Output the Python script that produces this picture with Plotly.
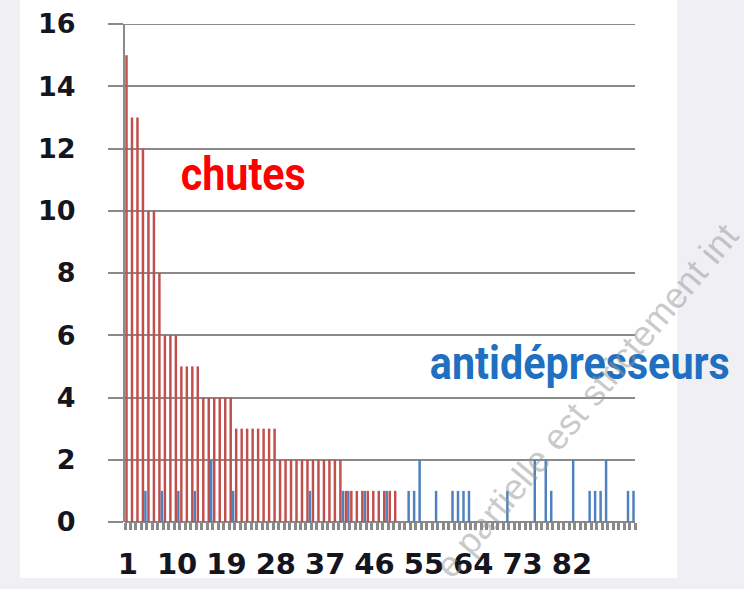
import plotly.graph_objects as go

# ---- data ----
categories = list(range(1, 94))
chutes = [
    15, 13, 13, 12, 10, 10, 8, 6, 6, 6,
    5, 5, 5, 5, 4, 4, 4, 4, 4, 4,
    3, 3, 3, 3, 3, 3, 3, 3, 2, 2,
    2, 2, 2, 2, 2, 2, 2, 2, 2, 2,
    1, 1, 1, 1, 1, 1, 1, 1, 1, 1,
    0, 0, 0, 0, 0, 0, 0, 0, 0, 0,
    0, 0, 0, 0, 0, 0, 0, 0, 0, 0,
    0, 0, 0, 0, 0, 0, 0, 0, 0, 0,
    0, 0, 0, 0, 0, 0, 0, 0, 0, 0,
    0, 0, 0,
]
antidepresseurs = [
    0, 0, 0, 1, 0, 0, 1, 0, 0, 1,
    0, 0, 1, 0, 0, 2, 0, 0, 0, 1,
    0, 0, 0, 0, 0, 0, 0, 0, 0, 0,
    0, 0, 0, 1, 0, 0, 0, 0, 0, 1,
    1, 0, 0, 1, 0, 0, 0, 1, 0, 0,
    0, 1, 1, 2, 0, 0, 1, 0, 0, 1,
    1, 1, 1, 0, 0, 0, 0, 0, 0, 1,
    0, 0, 0, 0, 2, 0, 2, 1, 0, 0,
    0, 2, 0, 0, 1, 1, 1, 2, 0, 0,
    0, 1, 1,
]
x_tick_labels = [1, 10, 19, 28, 37, 46, 55, 64, 73, 82]
y_ticks = [0, 2, 4, 6, 8, 10, 12, 14, 16]

# ---- layout geometry (pixels) ----
W, H = 744, 589
L, R, T, B = 125, 744 - 634.6, 24, 589 - 522
pw, ph = W - L - R, H - T - B

def px(x):
    return (x - L) / pw

def py(y):
    return (H - B - y) / ph

GRID = "#8a8a8a"
TXT = "#151520"

fig = go.Figure()
fig.add_trace(go.Bar(x=categories, y=chutes, name="chutes",
                     marker=dict(color="#c0504d", line=dict(width=0))))
fig.add_trace(go.Bar(x=categories, y=antidepresseurs, name="antidépresseurs",
                     marker=dict(color="#4f81bd", line=dict(width=0))))

fig.update_layout(
    width=W, height=H,
    margin=dict(l=L, r=R, t=T, b=B, pad=0, autoexpand=False),
    paper_bgcolor="#efeff4",
    plot_bgcolor="white",
    barmode="group",
    bargap=0.1,
    bargroupgap=0.0,
    showlegend=False,
    font=dict(family="DejaVu Sans", color=TXT),
)

fig.update_xaxes(
    range=[0.5, 93.5], automargin=False,
    tickmode="array", tickvals=x_tick_labels, ticktext=[str(v) for v in x_tick_labels],
    ticks="", showgrid=False, zeroline=False, showline=False,
    tickfont=dict(family="DejaVu Sans", size=29, weight="bold", color=TXT),
    ticklabelstandoff=22,
    minor=dict(tickmode="linear", tick0=0.5, dtick=1, ticks="outside",
               ticklen=7, tickwidth=3, tickcolor=GRID, showgrid=False),
)
fig.update_yaxes(
    range=[0, 16], automargin=False, tickmode="array", tickvals=y_ticks,
    showgrid=True, gridcolor=GRID, gridwidth=2,
    zeroline=True, zerolinecolor=GRID, zerolinewidth=2,
    showline=True, linecolor=GRID, linewidth=2,
    ticks="outside", ticklen=15, tickwidth=2, tickcolor=GRID,
    tickfont=dict(family="DejaVu Sans", size=27, weight="bold", color=TXT),
    ticklabelstandoff=27,
)

# white chart area behind everything
fig.add_shape(type="rect", xref="paper", yref="paper", layer="below",
              x0=px(20), x1=px(677), y0=py(578), y1=py(-5),
              fillcolor="white", line=dict(width=0))
# top gridline at 16 (plotly omits the edge gridline)
fig.add_shape(type="line", xref="paper", yref="y", layer="above",
              x0=px(110), x1=1, y0=16, y1=16,
              line=dict(color=GRID, width=2))

fig.add_annotation(text="chutes", xref="paper", yref="paper",
                   x=px(243), y=py(174), showarrow=False,
                   xanchor="center", yanchor="middle",
                   font=dict(family="Roboto", size=47, weight="bold", color="#ff0000"))
fig.add_annotation(text="antidépresseurs", xref="paper", yref="paper",
                   x=px(580), y=py(362), showarrow=False,
                   xanchor="center", yanchor="middle",
                   font=dict(family="Roboto", size=47, weight="bold", color="#1f70c1"))
fig.add_annotation(text="e partielle est strictement int", xref="paper", yref="paper",
                   x=px(586), y=py(400), showarrow=False, textangle=-50,
                   xanchor="center", yanchor="middle",
                   font=dict(family="Liberation Sans", size=36, color="rgba(150,150,150,0.5)"))

post = """
document.body.style.margin = '0';
document.body.style.background = '#efeff4';
var gd = document.getElementById('{plot_id}');
var lens = {'0': 125, '1': 300};
function squeeze() {
  gd.querySelectorAll('g.annotation').forEach(function (g) {
    var idx = g.getAttribute('data-index');
    if (lens[idx] === undefined) return;
    var t = g.querySelector('text.annotation-text');
    if (!t) return;
    t.setAttribute('textLength', lens[idx]);
    t.setAttribute('lengthAdjust', 'spacingAndGlyphs');
    var r = g.querySelector('rect.bg');
    if (r) {
      var w = parseFloat(r.getAttribute('width'));
      var x = parseFloat(r.getAttribute('x')) || 0;
      var nw = lens[idx] + 6;
      r.setAttribute('x', x + (w - nw) / 2);
      r.setAttribute('width', nw);
    }
  });
}
squeeze();
setTimeout(squeeze, 0);
if (gd.on) { gd.on('plotly_afterplot', squeeze); }
"""

fig.write_html("out.html", post_script=post, config={"displayModeBar": False})
